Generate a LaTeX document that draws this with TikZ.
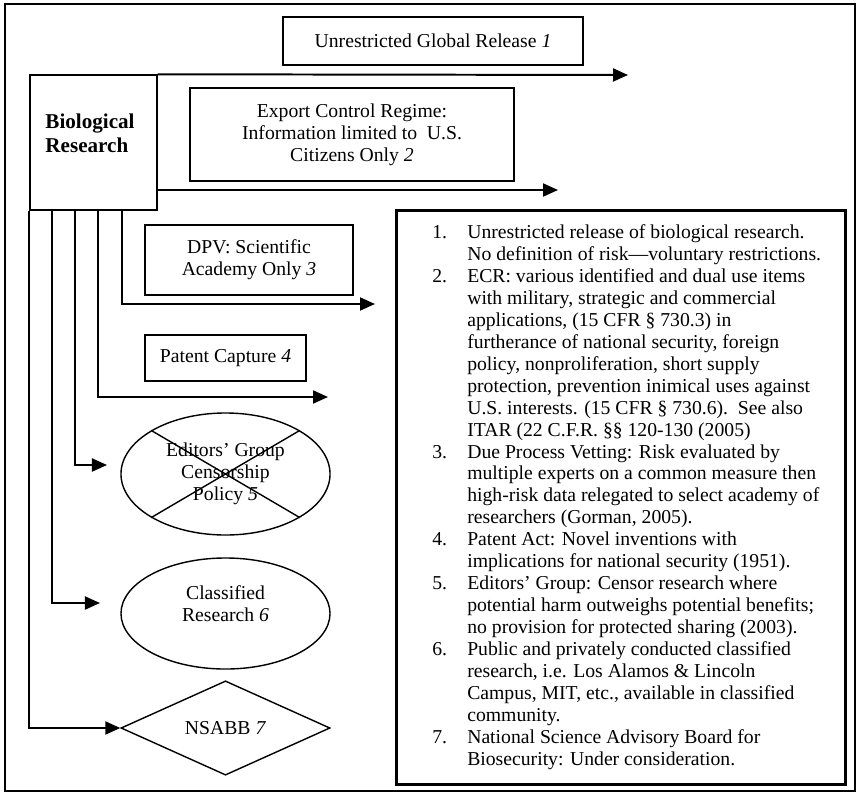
\documentclass[tikz,border=0pt]{standalone}
\usepackage{fontspec}
\setmainfont{Liberation Serif}
\usetikzlibrary{arrows.meta,shapes.geometric}
\tikzset{
  box/.style={draw,line width=1pt,inner sep=0pt,align=center},
  bubble/.style={box,ellipse},
  arr/.style={line width=1.4pt,-{Triangle[length=3.75mm,width=3.25mm]}},
}
\begin{document}
\begin{tikzpicture}[x=0.025cm,y=-0.025cm,font=\fontsize{14}{15.6}\selectfont]
        \useasboundingbox (0,0) rectangle (859,794);
        \draw[line width=1.2pt] (5,4) rectangle (855,791);

        \node[box,minimum width=3.175cm,minimum height=3.375cm] (bio) at (93.5,142.5) {};
        \node[align=left,font=\fontsize{15}{17}\selectfont\bfseries] (biot) at (90,133) {Biological\\Research};
        \node[box,minimum width=7.5cm,minimum height=1.2cm] (g1) at (433,41) {Unrestricted Global Release \textit{1}};
        \node[box,minimum width=8.1cm,minimum height=2.325cm] (g2) at (352,134.5) {Export Control Regime:\\Information limited to\ \ U.S.\\Citizens Only \textit{2}};
        \node[box,minimum width=5.2cm,minimum height=1.75cm] (g3) at (249,260) {DPV: Scientific\\Academy Only \textit{3}};
        \node[box,minimum width=4.025cm,minimum height=1.15cm] (g4) at (225.5,358) {Patent Capture \textit{4}};
        \node[bubble,minimum width=5.225cm,minimum height=3.05cm] (g5) at (225.5,474) {Editors’ Group\\Censorship\\Policy \textit{5}};
        \node[bubble,minimum width=5.225cm,minimum height=2.775cm] (g6) at (225.5,613.5) {};
        \node[align=center] (g6t) at (225.5,604) {Classified\\Research \textit{6}};
        \node[box,diamond,minimum width=5.225cm,minimum height=2.25cm] (g7) at (225.5,728) {NSABB \textit{7}};
        \draw[line width=1pt] (g5.north west) -- (g5.south east) (g5.north east) -- (g5.south west);

        \node[draw,line width=2.2pt,minimum width=11.2cm,minimum height=14.325cm,inner sep=0pt] (nt) at (621,497.5) {};
        \node[anchor=west,inner sep=0pt] (ntt) at (432,497.5) {%
        \begin{tabular}{@{}p{0.875cm}@{}l@{}}
        1. & Unrestricted release of biological research.\\
           & No definition of risk—voluntary restrictions.\\
        2. & ECR: various identified and dual use items\\
           & with military, strategic and commercial\\
           & applications, (15 CFR § 730.3) in\\
           & furtherance of national security, foreign\\
           & policy, nonproliferation, short supply\\
           & protection, prevention inimical uses against\\
           & U.S. interests. (15 CFR § 730.6).\ \ See also\\
           & ITAR (22 C.F.R. §§ 120-130 (2005)\\
        3. & Due Process Vetting: Risk evaluated by\\
           & multiple experts on a common measure then\\
           & high-risk data relegated to select academy of\\
           & researchers (Gorman, 2005).\\
        4. & Patent Act: Novel inventions with\\
           & implications for national security (1951).\\
        5. & Editors’ Group: Censor research where\\
           & potential harm outweighs potential benefits;\\
           & no provision for protected sharing (2003).\\
        6. & Public and privately conducted classified\\
           & research, i.e. Los Alamos \& Lincoln\\
           & Campus, MIT, etc., available in classified\\
           & community.\\
        7. & National Science Advisory Board for\\
           & Biosecurity: Under consideration.
        \end{tabular}};

        \coordinate (e1) at (628,75);
        \coordinate (e2) at (558,190);
        \coordinate (s3) at (122,210);
        \coordinate (e3) at (375,304);
        \coordinate (s4) at (98,210);
        \coordinate (e4) at (328,397);
        \coordinate (s5) at (75,210);
        \coordinate (e5) at (107,465);
        \coordinate (s6) at (52,210);
        \coordinate (e6) at (100,603);

        \draw[arr] (bio.north east) -- (e1);
        \draw[arr] (bio.east |- e2) -- (e2);
        \draw[arr] (s3) |- (e3);
        \draw[arr] (s4) |- (e4);
        \draw[arr] (s5) |- (e5);
        \draw[arr] (s6) |- (e6);
        \draw[arr] (bio.south west) |- (g7.west);
\end{tikzpicture}
\end{document}
